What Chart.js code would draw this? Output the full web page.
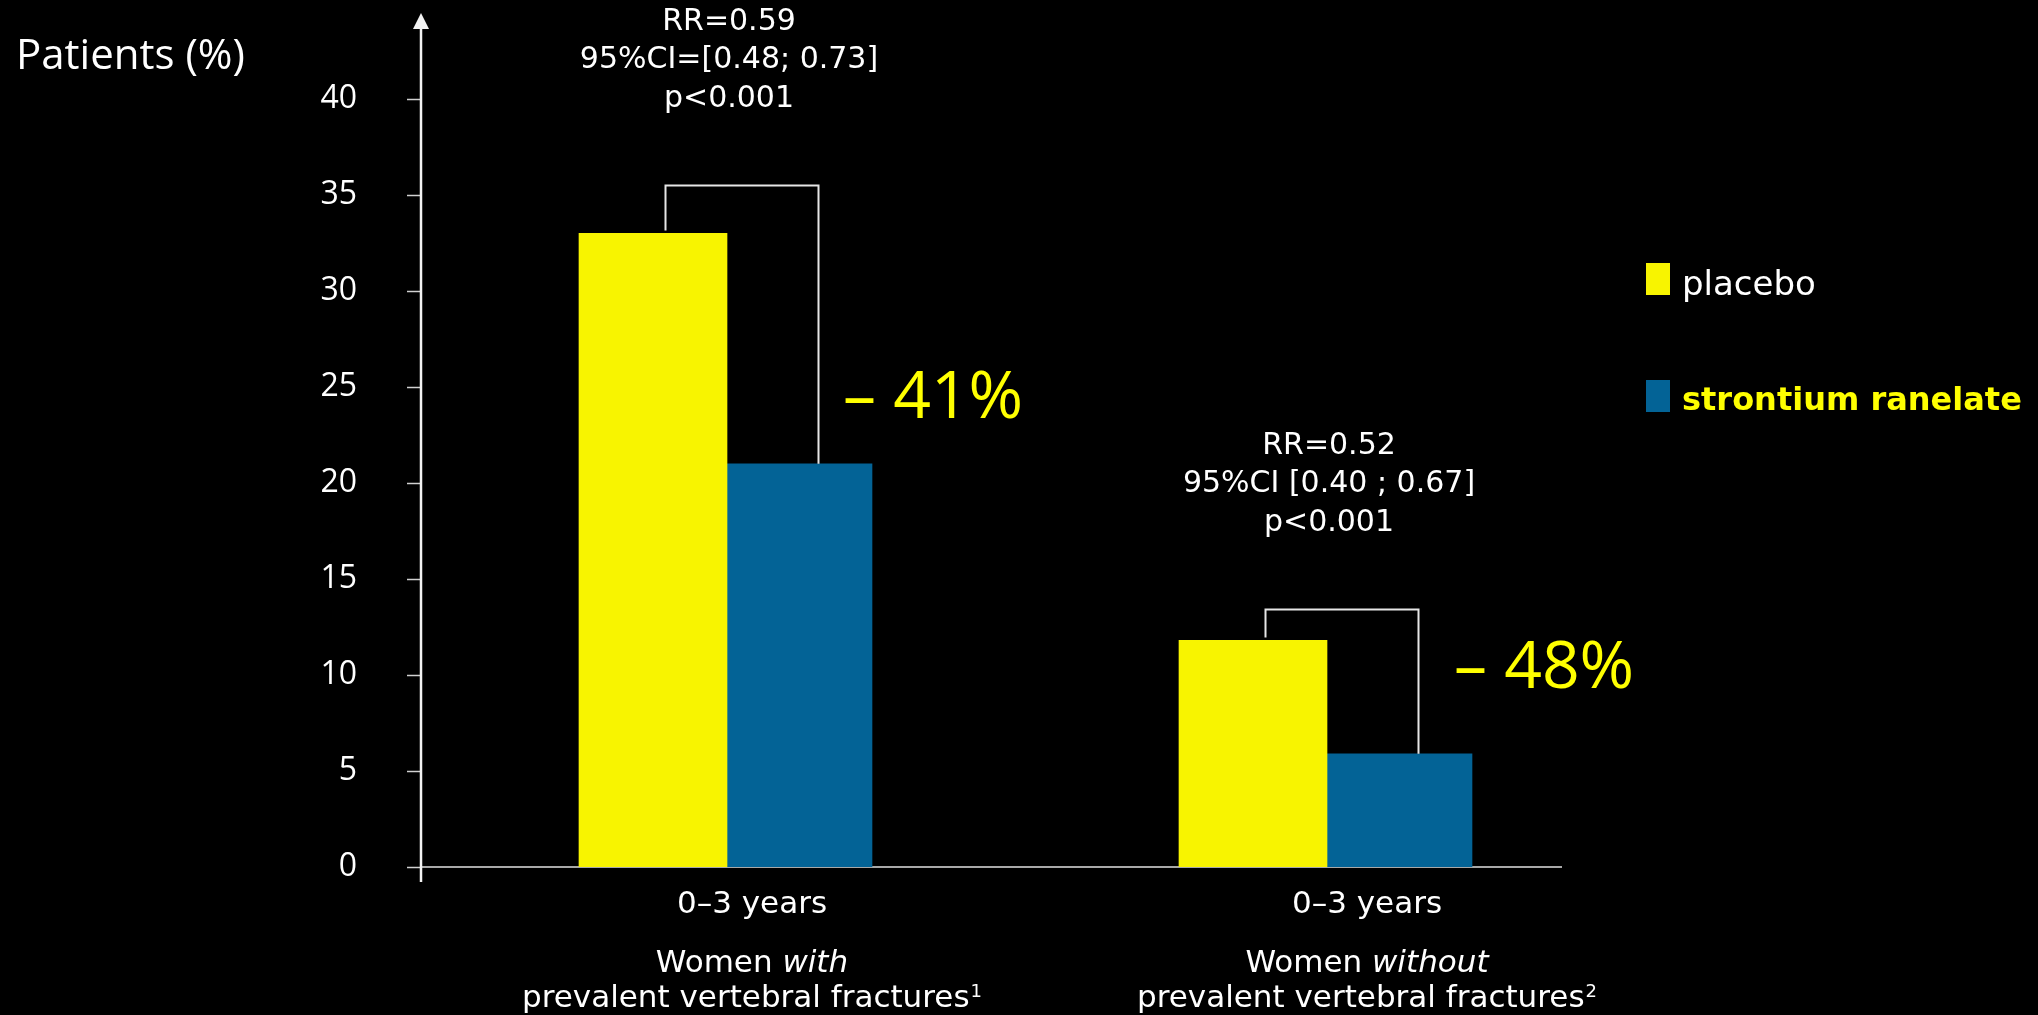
<!DOCTYPE html>
<html>
<head>
<meta charset="utf-8">
<title>Vertebral fractures – strontium ranelate vs placebo</title>
<script src="https://cdn.jsdelivr.net/npm/chart.js@4.4.1/dist/chart.umd.min.js"></script>
<style>
  html, body { margin: 0; padding: 0; background: #000; }
  #wrap { width: 2038px; height: 1015px; position: relative; }
</style>
</head>
<body>
<div id="wrap"><canvas id="chart" width="2038" height="1015"></canvas></div>
<script>
// ---- data ----
const categories = ['0–3 years', '0–3 years'];
const groupLead = 'Women';
const groupEmphasis = ['with', 'without'];
const groupTail = 'prevalent vertebral fractures';
const groupRefs = ['1', '2'];
const seriesNames = ['placebo', 'strontium ranelate'];
const placebo = [33.0, 11.8];
const strontium = [21.0, 5.9];
const riskRatio = ['RR=0.59', 'RR=0.52'];
const confInterval = ['95%CI=[0.48; 0.73]', '95%CI [0.40 ; 0.67]'];
const pValue = ['p<0.001', 'p<0.001'];
const reduction = ['– 41%', '– 48%'];
const yTicks = [0, 5, 10, 15, 20, 25, 30, 35, 40];

// ---- look ----
const YELLOW = '#F8F400';
const BLUE = '#036396';
const SANS = '"Open Sans", "DejaVu Sans", sans-serif';
const VERD = '"DejaVu Sans", "Open Sans", sans-serif';

// placement of the comparison brackets and their captions (per group)
const bracketLevel = [35.5, 13.45];   // bracket top, in axis units
const dropLevel = [23.4, 9.3];        // baseline of the "– xx%" caption, in axis units
const dropShift = [116, 127];         // caption left edge from the group centre, px
const labelShift = [25, 40];          // category caption centre from the group centre, px

const decor = {
  id: 'decor',
  beforeDatasetsDraw(chart) {
    const { ctx, chartArea, scales: { y } } = chart;
    const ax = chartArea.left - 6;
    const y0 = y.getPixelForValue(0);
    ctx.save();
    // horizontal baseline
    ctx.strokeStyle = '#a8a8a8';
    ctx.lineWidth = 2;
    ctx.beginPath();
    ctx.moveTo(ax, y0);
    ctx.lineTo(chartArea.left + 1135, y0);
    ctx.stroke();
    // tick marks
    ctx.strokeStyle = '#d0d0d0';
    ctx.lineWidth = 1.5;
    yTicks.forEach(v => {
      const py = Math.round(y.getPixelForValue(v)) + 0.5;
      ctx.beginPath();
      ctx.moveTo(ax - 14, py);
      ctx.lineTo(ax, py);
      ctx.stroke();
    });
    // vertical axis with arrow head
    ctx.strokeStyle = '#f2f2f2';
    ctx.lineWidth = 2.5;
    ctx.beginPath();
    ctx.moveTo(ax, y0 + 15);
    ctx.lineTo(ax, 26);
    ctx.stroke();
    ctx.fillStyle = '#f2f2f2';
    ctx.beginPath();
    ctx.moveTo(ax, 13);
    ctx.lineTo(ax + 8, 29);
    ctx.lineTo(ax - 8, 29);
    ctx.closePath();
    ctx.fill();
    ctx.restore();
  },
  afterDatasetsDraw(chart) {
    const { ctx, scales: { x, y } } = chart;
    const metaP = chart.getDatasetMeta(0);
    const metaS = chart.getDatasetMeta(1);
    ctx.save();

    categories.forEach((cat, i) => {
      const cx = x.getPixelForValue(i);
      const barP = metaP.data[i];
      const barS = metaS.data[i];

      // bracket between the two bars
      const top = Math.round(y.getPixelForValue(bracketLevel[i])) + 0.5;
      const lx = Math.round(barP.x + 12) + 0.5;
      const rx = Math.round(barS.x + 18) + 0.5;
      ctx.strokeStyle = '#e6e6e6';
      ctx.lineWidth = 2;
      ctx.beginPath();
      ctx.moveTo(lx, barP.y - 3);
      ctx.lineTo(lx, top);
      ctx.lineTo(rx, top);
      ctx.lineTo(rx, barS.y);
      ctx.stroke();

      // statistics above the bracket
      ctx.fillStyle = '#ffffff';
      ctx.font = '30px ' + VERD;
      ctx.textAlign = 'center';
      ctx.textBaseline = 'alphabetic';
      const base = top - 79;
      [riskRatio[i], confInterval[i], pValue[i]].forEach((t, k) => {
        ctx.fillText(t, cx + 2, base - (2 - k) * 38.5);
      });

      // relative reduction
      ctx.fillStyle = '#ffff00';
      ctx.font = '66px ' + SANS;
      ctx.textAlign = 'left';
      ctx.fillText(reduction[i], cx + dropShift[i], y.getPixelForValue(dropLevel[i]));

      // category captions under the axis
      const lc = cx + labelShift[i];
      ctx.fillStyle = '#ffffff';
      ctx.textAlign = 'left';
      ctx.font = '31px ' + VERD;
      let w = ctx.measureText(cat).width;
      ctx.fillText(cat, lc - w / 2, 913);

      const lead = groupLead + ' ';
      ctx.font = '31px ' + VERD;
      const wLead = ctx.measureText(lead).width;
      ctx.font = 'italic 31px ' + VERD;
      const wEm = ctx.measureText(groupEmphasis[i]).width;
      let sx = lc - (wLead + wEm) / 2;
      ctx.font = '31px ' + VERD;
      ctx.fillText(lead, sx, 972);
      ctx.font = 'italic 31px ' + VERD;
      ctx.fillText(groupEmphasis[i], sx + wLead, 972);

      ctx.font = '31px ' + VERD;
      const wTail = ctx.measureText(groupTail).width;
      ctx.font = '18px ' + VERD;
      const wRef = ctx.measureText(groupRefs[i]).width;
      sx = lc - (wTail + wRef + 1) / 2;
      ctx.font = '31px ' + VERD;
      ctx.fillText(groupTail, sx, 1007);
      ctx.font = '18px ' + VERD;
      ctx.fillText(groupRefs[i], sx + wTail + 1, 997);
    });

    // legend
    const ds = chart.data.datasets;
    const rows = [
      { top: 263, base: 295, font: '34px ' + VERD, color: '#ffffff' },
      { top: 380, base: 410, font: 'bold 32px ' + VERD, color: '#ffff00' }
    ];
    rows.forEach((r, k) => {
      ctx.fillStyle = ds[k].backgroundColor;
      ctx.fillRect(1646, r.top, 24, 32);
      ctx.fillStyle = r.color;
      ctx.font = r.font;
      ctx.textAlign = 'left';
      ctx.fillText(ds[k].label, 1682, r.base);
    });

    // axis title
    ctx.fillStyle = '#ffffff';
    ctx.font = '42px ' + SANS;
    ctx.textAlign = 'left';
    ctx.fillText('Patients (%)', 16, 69);

    ctx.restore();
  }
};

new Chart(document.getElementById('chart'), {
  type: 'bar',
  data: {
    labels: categories,
    datasets: [
      { label: seriesNames[0], data: placebo, backgroundColor: YELLOW, borderWidth: 0, barThickness: 148 },
      { label: seriesNames[1], data: strontium, backgroundColor: BLUE, borderWidth: 0, barThickness: 145 }
    ]
  },
  options: {
    responsive: false,
    animation: false,
    devicePixelRatio: 1,
    layout: { padding: { left: 0, right: 411, top: 99, bottom: 148 } },
    plugins: {
      legend: { display: false },
      title: { display: false },
      tooltip: { enabled: false }
    },
    scales: {
      x: {
        display: false,
        offset: true
      },
      y: {
        min: 0,
        max: 40,
        afterBuildTicks(scale) { scale.ticks = yTicks.map(v => ({ value: v })); },
        afterFit(scale) { scale.width = 427; },
        grid: { display: false, drawTicks: false },
        border: { display: false },
        ticks: {
          color: '#ffffff',
          padding: 70,
          font: { family: SANS, size: 32 }
        }
      }
    }
  },
  plugins: [decor]
});
</script>
</body>
</html>
